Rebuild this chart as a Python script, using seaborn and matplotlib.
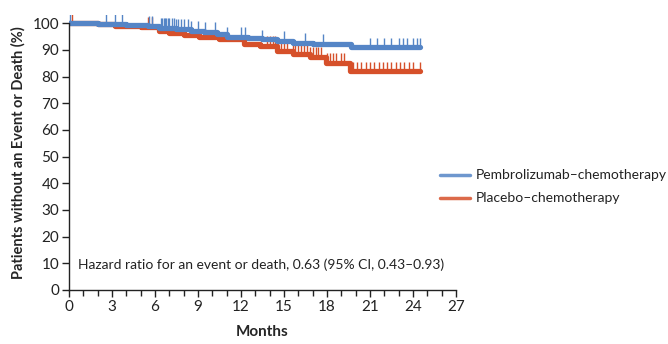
import numpy as np
import pandas as pd
import seaborn as sns
import matplotlib.pyplot as plt

# ---- data ----
pembro_t = [0, 2.0, 4.0, 5.5, 6.3, 7.5, 8.5, 9.4, 10.3, 11.0, 12.5, 13.5, 14.5, 15.6, 17.0, 19.7, 24.5]
pembro_s = [100, 99.7, 99.4, 99.0, 98.3, 97.8, 97.2, 96.6, 95.9, 94.9, 94.4, 93.9, 93.4, 92.5, 92.2, 90.9, 90.9]
placebo_t = [0, 2.0, 3.2, 5.0, 6.3, 7.0, 8.0, 9.1, 10.5, 12.2, 13.3, 14.5, 15.6, 16.8, 17.9, 19.6, 24.5]
placebo_s = [100, 99.6, 99.1, 98.7, 97.2, 96.3, 95.6, 94.8, 94.0, 92.2, 91.4, 89.4, 88.3, 87.2, 85.2, 81.9, 81.9]
pembro_cens = [0.1, 2.6, 3.2, 3.7, 5.6, 5.8, 6.4, 6.5, 6.6, 6.7, 6.8, 6.9, 7.0, 7.2, 7.3, 7.5,
               7.6, 7.8, 8.0, 8.3, 8.5, 9.0, 9.5, 10.2, 11.0, 12.0, 12.3, 13.5, 15.0, 16.5,
               17.7, 21.0, 21.5, 22.0, 22.5, 23.0, 23.3, 23.6, 24.0, 24.3, 24.5]
placebo_cens = [0.2, 5.5, 5.8, 13.8, 14.0, 14.2, 14.4, 14.6, 14.8, 15.0, 15.2, 15.6, 15.8, 16.0,
                16.2, 16.4, 16.6, 16.8, 17.0, 17.2, 17.4, 17.6, 18.0, 18.2, 18.4, 18.6, 19.0,
                19.2, 19.8, 20.1, 20.4, 20.7, 21.0, 21.3, 21.6, 21.9, 22.2, 22.5, 22.8, 23.1,
                23.4, 23.7, 24.0, 24.5]
groups = ["Pembrolizumab\u2013chemotherapy", "Placebo\u2013chemotherapy"]
x_ticks = list(range(0, 28, 3))
y_ticks = list(range(0, 101, 10))
hr_text = "Hazard ratio for an event or death, 0.63 (95% CI, 0.43\u20130.93)"

colors = {groups[0]: "#5585c6", groups[1]: "#d6502a"}

def step_at(ts, ss, t):
    i = np.searchsorted(ts, t, side="right") - 1
    return ss[max(i, 0)]

curves = pd.concat([
    pd.DataFrame({"Months": pembro_t, "Surv": pembro_s, "Group": groups[0]}),
    pd.DataFrame({"Months": placebo_t, "Surv": placebo_s, "Group": groups[1]}),
])
cens = pd.concat([
    pd.DataFrame({"Months": pembro_cens,
                  "Surv": [step_at(pembro_t, pembro_s, t) for t in pembro_cens],
                  "Group": groups[0]}),
    pd.DataFrame({"Months": placebo_cens,
                  "Surv": [step_at(placebo_t, placebo_s, t) for t in placebo_cens],
                  "Group": groups[1]}),
])

sns.set_theme(style="ticks")
plt.rcParams["font.family"] = ["Lato", "DejaVu Sans"]

fig = plt.figure(figsize=(6.68, 3.44), dpi=100)
ax = fig.add_axes([0.1033, 0.157, 0.5793, 0.799])

# placebo drawn first, pembro on top
for g in [groups[1], groups[0]]:
    sub = curves[curves.Group == g]
    sns.lineplot(data=sub, x="Months", y="Surv", color=colors[g], lw=3.8,
                 drawstyle="steps-post", ax=ax, estimator=None, sort=False, legend=False)
    cs = cens[cens.Group == g]
    ax.plot(cs.Months, cs.Surv + 1.8, linestyle="none", marker="|", ms=7, mew=1.0,
            color=colors[g])

ax.set_xlim(0, 27)
ax.set_ylim(0, 103)
ax.set_xticks(x_ticks)
ax.set_xticks(range(0, 28), minor=True)
ax.set_yticks(y_ticks)
ax.spines["left"].set_bounds(0, 100)
ax.spines["top"].set_visible(False)
ax.spines["right"].set_visible(False)
for s in ["left", "bottom"]:
    ax.spines[s].set_linewidth(1.0)
    ax.spines[s].set_color("#222222")
ax.tick_params(axis="both", which="major", length=5, width=1, labelsize=11,
               colors="#222222", pad=2)
ax.tick_params(axis="x", which="minor", length=4, width=1, colors="#222222")
ax.tick_params(axis="y", which="minor", length=0)
ax.set_xlabel("Months", fontsize=11, fontweight="bold", labelpad=8)
ax.set_ylabel("Patients without an Event or Death (%)", fontsize=10.5,
              fontweight="bold", labelpad=5)

ax.text(0.6, 9.6, hr_text, fontsize=10, va="center", ha="left", color="#222222")

# legend
for i, g in enumerate(groups):
    yy = 1 - (175 + 23 * i) / 344
    fig.lines.append(plt.Line2D([440 / 668, 470 / 668], [yy, yy], color=colors[g], lw=2.5,
                                alpha=0.85, transform=fig.transFigure))
    fig.text(476 / 668, yy, g, fontsize=10, va="center", ha="left", color="#222222")

fig.savefig("out.png", dpi=100)
